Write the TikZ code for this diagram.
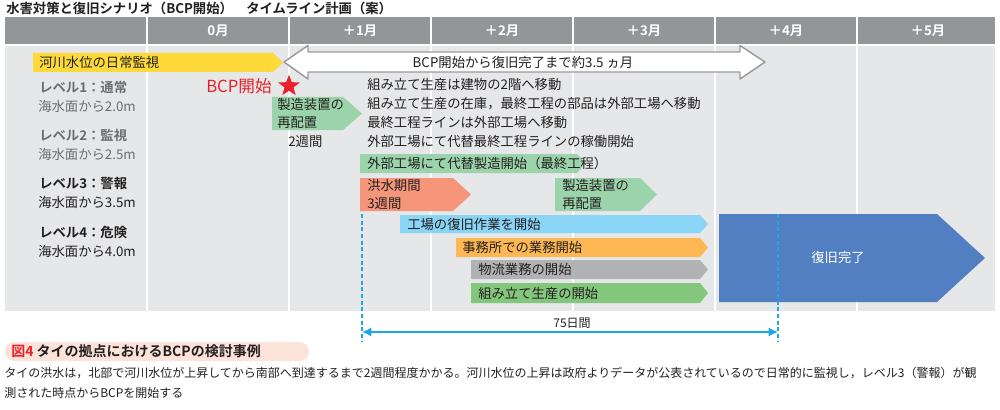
\documentclass[tikz,border=0pt]{standalone}
\usepackage{fontspec}
\setmainfont{Noto Sans CJK JP}[BoldFont={Noto Sans CJK JP Bold}]
\usetikzlibrary{arrows.meta, shapes.geometric}
\definecolor{headgray}{HTML}{939598}
\definecolor{bodygray}{HTML}{E6E7E8}
\definecolor{txtblack}{HTML}{231F20}
\definecolor{txtgray}{HTML}{6D6E71}
\definecolor{baryellow}{HTML}{FDDA3A}
\definecolor{barmint}{HTML}{9BD4AA}
\definecolor{barsalmon}{HTML}{F5967B}
\definecolor{barsky}{HTML}{8AD4F6}
\definecolor{barorange}{HTML}{FDB853}
\definecolor{bargray}{HTML}{B1B2B3}
\definecolor{bargreen}{HTML}{83C77D}
\definecolor{barblue}{HTML}{517FC1}
\definecolor{linecyan}{HTML}{1EA7E4}
\definecolor{arrowgray}{HTML}{9A9B9D}
\definecolor{bcpred}{HTML}{E9212B}
\definecolor{cappink}{HTML}{FCE3DA}

\begin{document}
\begin{tikzpicture}[x=0.75pt, y=-0.75pt, line join=round, line cap=round,
    lbl/.style={anchor=west, inner sep=0pt, align=left, text=txtblack, font=\fontsize{10}{13.5}\selectfont},
    head/.style={text=white, inner sep=0pt, font=\bfseries\fontsize{10}{12}\selectfont},
    lvl/.style={anchor=west, inner sep=0pt, font=\bfseries\fontsize{10}{12}\selectfont},
    sea/.style={anchor=west, inner sep=0pt, font=\fontsize{10}{12}\selectfont},
    markline/.style={linecyan, line width=1.6pt, line cap=butt, dash pattern=on 3pt off 2pt}]
  \useasboundingbox (0,0) rectangle (1000,410);

  % title
  \node[anchor=west, inner sep=0pt, font=\bfseries\fontsize{10}{12}\selectfont, text=txtblack] (title) at (6,8) {水害対策と復旧シナリオ（BCP開始）　タイムライン計画（案）};

  % table
  \fill[headgray] (5,17) rectangle (995,44);
  \fill[bodygray] (5,46) rectangle (995,311);
  \foreach \x in {147,289,431,573,715,857}
    \draw[white, line width=1.5pt, line cap=butt] (\x,17) -- (\x,311);
  \node[head] (m0) at (218,30.5) {0月};
  \node[head] (m1) at (360,30.5) {＋1月};
  \node[head] (m2) at (502,30.5) {＋2月};
  \node[head] (m3) at (644,30.5) {＋3月};
  \node[head] (m4) at (786,30.5) {＋4月};
  \node[head] (m5) at (928,30.5) {＋5月};

  % levels
  \node[lvl, text=txtgray] (lv1) at (39,87) {レベル1：通常};
  \node[sea, text=txtgray] (sea1) at (38,106) {海水面から2.0m};
  \node[lvl, text=txtgray] (lv2) at (39,135) {レベル2：監視};
  \node[sea, text=txtgray] (sea2) at (38,154) {海水面から2.5m};
  \node[lvl, text=txtblack] (lv3) at (39,183) {レベル3：警報};
  \node[sea, text=txtblack] (sea3) at (38,202) {海水面から3.5m};
  \node[lvl, text=txtblack] (lv4) at (39,232) {レベル4：危険};
  \node[sea, text=txtblack] (sea4) at (38,251) {海水面から4.0m};

  % monitoring and span arrow
  \fill[baryellow] (33,53) -- (273,53) -- (283,62.5) -- (273,72) -- (33,72) -- cycle;
  \node[lbl] (watch) at (39,62.5) {河川水位の日常監視};
  \draw[arrowgray, fill=white, line width=1.1pt] (284,62) -- (308,45.5) -- (308,52) -- (740,52) -- (740,45.5)
    -- (765,62) -- (740,79) -- (740,72) -- (308,72) -- (308,79) -- cycle;
  \node[lbl, anchor=center] (span) at (523,62) {BCP開始から復旧完了まで約3.5 ヵ月};

  % start
  \node[anchor=west, inner sep=0pt, text=bcpred, font=\fontsize{12.5}{14}\selectfont] (bcp) at (206,86) {BCP開始};
  \node[star, star points=5, star point ratio=2.4, fill=bcpred, inner sep=0pt, minimum size=17pt] (bcpstar) at (289,86) {};

  % relocation
  \fill[barmint] (272,97) -- (343,97) -- (362,113.5) -- (343,130) -- (272,130) -- cycle;
  \node[lbl] (move1) at (277,113.5) {製造装置の\\再配置};
  \node[lbl] (twowk) at (288,142) {2週間};
  \node[lbl, font=\fontsize{10}{14.2}\selectfont] (steps) at (367,113) {組み立て生産は建物の2階へ移動\\組み立て生産の在庫，最終工程の部品は外部工場へ移動\\最終工程ラインは外部工場へ移動\\外部工場にて代替最終工程ラインの稼働開始};

  % bars
  \fill[barmint] (360,154) -- (577,154) -- (586,163.5) -- (577,173) -- (360,173) -- cycle;
  \node[lbl] (outside) at (367,163.5) {外部工場にて代替製造開始（最終工程）};
  \fill[barsalmon] (360,178) -- (453,178) -- (471,194.5) -- (453,211) -- (360,211) -- cycle;
  \node[lbl] (flood) at (367,194.5) {洪水期間\\3週間};
  \fill[barmint] (555,178) -- (640,178) -- (657,194.5) -- (640,211) -- (555,211) -- cycle;
  \node[lbl] (move2) at (562,194.5) {製造装置の\\再配置};
  \fill[barsky] (400,215) -- (700,215) -- (708,224) -- (700,233) -- (400,233) -- cycle;
  \node[lbl] (repair) at (407,224) {工場の復旧作業を開始};
  \fill[barorange] (456,238) -- (700,238) -- (708,247.5) -- (700,257) -- (456,257) -- cycle;
  \node[lbl] (office) at (462,247.5) {事務所での業務開始};
  \fill[bargray] (471,260) -- (700,260) -- (708,269.5) -- (700,279) -- (471,279) -- cycle;
  \node[lbl] (logi) at (478,269.5) {物流業務の開始};
  \fill[bargreen] (471,283) -- (700,283) -- (708,293) -- (700,303) -- (471,303) -- cycle;
  \node[lbl] (assy) at (478,293) {組み立て生産の開始};
  \fill[barblue] (719,214) -- (937,214) -- (985,258) -- (937,302) -- (719,302) -- cycle;
  \node[lbl, anchor=center, text=white] (done) at (838,257) {復旧完了};

  % 75 days
  \coordinate (d1top) at (362,214);
  \coordinate (d1bot) at (362,342);
  \coordinate (d2top) at (778,214);
  \coordinate (d2bot) at (778,342);
  \coordinate (d1mid) at (362,332);
  \coordinate (d2mid) at (778,332);
  \draw[markline] (d1top) -- (d1bot);
  \draw[markline] (d2top) -- (d2bot);
  \draw[linecyan, line width=1.3pt, {Latex[length=7pt,width=7pt]}-{Latex[length=7pt,width=7pt]}] (d1mid) -- (d2mid);
  \node[lbl, anchor=south, font=\fontsize{9}{10}\selectfont] (days) at (572,329) {75日間};

  % caption
  \fill[cappink, rounded corners=7pt] (5,342) rectangle (309,361);
  \node[anchor=west, inner sep=0pt, font=\bfseries\fontsize{10.5}{12}\selectfont, text=txtblack] (cap) at (11,351.5) {\textcolor{bcpred}{図4} タイの拠点におけるBCPの検討事例};
  \node[anchor=west, inner sep=0pt, font=\fontsize{9}{12}\selectfont, text=txtblack] (note1) at (4,373.5) {タイの洪水は，北部で河川水位が上昇してから南部へ到達するまで2週間程度かかる。河川水位の上昇は政府よりデータが公表されているので日常的に監視し，レベル3（警報）が観};
  \node[anchor=west, inner sep=0pt, font=\fontsize{9}{12}\selectfont, text=txtblack] (note2) at (4,392.5) {測された時点からBCPを開始する};
\end{tikzpicture}
\end{document}
